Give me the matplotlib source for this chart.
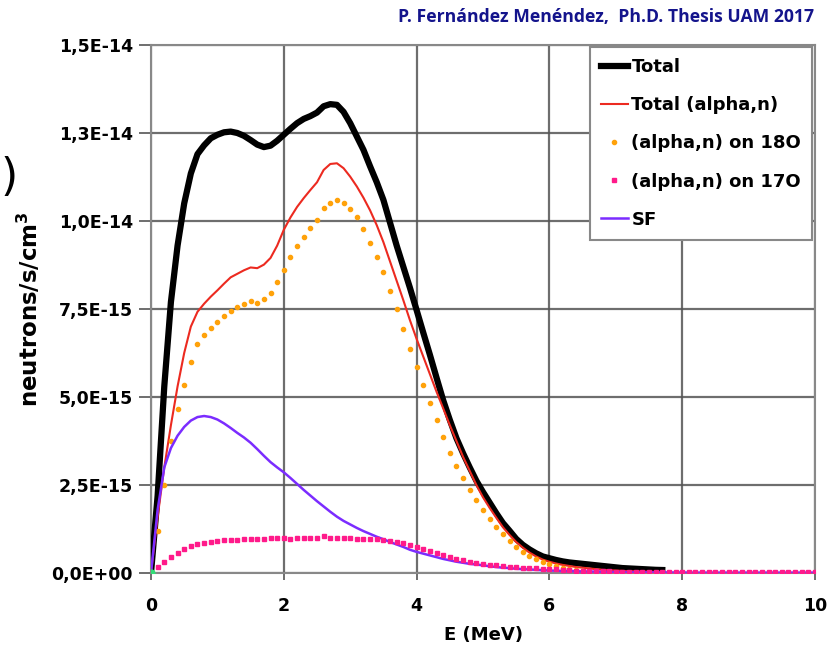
import numpy as np
import matplotlib
matplotlib.use('Agg')
import matplotlib.pyplot as plt

# energy grid of the simulation output (MeV), one point every 0.1 MeV
energy = np.arange(0, 101) / 10.0

# fluxes, in units of 1e-15 neutrons/s/cm3
total = [0, 2.2, 5.3, 7.7, 9.3, 10.5, 11.35, 11.9, 12.15, 12.35,
         12.45, 12.52, 12.54, 12.5, 12.42, 12.3, 12.17, 12.1, 12.14, 12.28,
         12.45, 12.62, 12.78, 12.9, 12.98, 13.08, 13.26, 13.32, 13.3, 13.1,
         12.78, 12.4, 12.02, 11.55, 11.1, 10.6, 9.95, 9.3, 8.7, 8.1,
         7.47, 6.83, 6.2, 5.55, 4.91, 4.35, 3.83, 3.4, 3.0, 2.62,
         2.3, 2.0, 1.7, 1.42, 1.2, 0.97, 0.8, 0.67, 0.56, 0.47,
         0.42, 0.37, 0.33, 0.3, 0.28, 0.26, 0.24, 0.22, 0.2, 0.18,
         0.16, 0.14, 0.13, 0.12, 0.11, 0.1, 0.09, 0.085]

total_an = [0, 1.6, 3.0, 4.2, 5.3, 6.25, 7.0, 7.42, 7.65, 7.85,
            8.03, 8.22, 8.4, 8.5, 8.6, 8.68, 8.66, 8.76, 8.95, 9.3,
            9.75, 10.1, 10.4, 10.65, 10.88, 11.1, 11.45, 11.62, 11.64, 11.5,
            11.26, 10.98, 10.66, 10.3, 9.88, 9.4, 8.85, 8.3, 7.75, 7.18,
            6.65, 6.15, 5.65, 5.15, 4.68, 4.2, 3.75, 3.3, 2.9, 2.5,
            2.15, 1.85, 1.57, 1.3, 1.08, 0.88, 0.72, 0.58, 0.47, 0.38,
            0.32, 0.27, 0.23, 0.2, 0.17, 0.15, 0.13, 0.11, 0.09, 0.08,
            0.07, 0.06, 0.05, 0.05, 0.04, 0.04, 0.03, 0.03]

an_18o = [0, 1.2, 2.5, 3.75, 4.65, 5.35, 6.0, 6.5, 6.76, 6.97,
          7.13, 7.29, 7.43, 7.55, 7.63, 7.72, 7.68, 7.77, 7.95, 8.26,
          8.6, 8.98, 9.29, 9.55, 9.79, 10.02, 10.38, 10.5, 10.6, 10.5,
          10.35, 10.1, 9.76, 9.38, 8.98, 8.55, 8.01, 7.49, 6.93, 6.37,
          5.86, 5.35, 4.84, 4.35, 3.87, 3.42, 3.04, 2.69, 2.36, 2.07,
          1.79, 1.54, 1.32, 1.1, 0.92, 0.75, 0.61, 0.48, 0.39, 0.31,
          0.26, 0.2, 0.15, 0.11, 0.08, 0.06, 0.04, 0.03, 0.02, 0.015,
          0.01, 0.01, 0.005, 0.005, 0, 0, 0, 0]

an_17o = [0, 0.17, 0.31, 0.45, 0.57, 0.68, 0.76, 0.81, 0.84, 0.87,
          0.9, 0.93, 0.94, 0.95, 0.96, 0.96, 0.96, 0.98, 1.0, 1.0,
          0.99, 0.98, 0.99, 1.0, 1.0, 1.0, 1.04, 1.0, 1.0, 1.0,
          0.99, 0.98, 0.98, 0.97, 0.96, 0.95, 0.92, 0.88, 0.84, 0.79,
          0.74, 0.68, 0.62, 0.56, 0.5, 0.45, 0.4, 0.36, 0.32, 0.29,
          0.26, 0.24, 0.22, 0.2, 0.18, 0.17, 0.15, 0.14, 0.13, 0.12,
          0.11, 0.1, 0.09, 0.08, 0.07, 0.06, 0.06, 0.05, 0.05, 0.05,
          0.04, 0.04, 0.04, 0.04, 0.03, 0.03, 0.03, 0.03, 0.03, 0.03,
          0.03, 0.02, 0.02, 0.02, 0.02, 0.02, 0.02, 0.02, 0.02, 0.02,
          0.02, 0.02, 0.02, 0.02, 0.02, 0.02, 0.02, 0.02, 0.02, 0.02,
          0.02]

sf = [0, 1.8, 3.0, 3.55, 3.9, 4.15, 4.33, 4.43, 4.46, 4.43,
      4.36, 4.25, 4.12, 3.98, 3.85, 3.7, 3.52, 3.33, 3.15, 3.0,
      2.86, 2.7, 2.53, 2.36, 2.2, 2.04, 1.89, 1.74, 1.6, 1.48,
      1.38, 1.28, 1.19, 1.11, 1.03, 0.96, 0.88, 0.81, 0.74, 0.66,
      0.6, 0.55, 0.5, 0.45, 0.4, 0.36, 0.32, 0.29, 0.26, 0.24,
      0.22, 0.19, 0.17, 0.15, 0.14, 0.12, 0.11, 0.1, 0.09, 0.08,
      0.07, 0.065, 0.06, 0.055, 0.05, 0.045, 0.04, 0.04, 0.035, 0.03,
      0.03, 0.025, 0.025, 0.025, 0.02, 0.02, 0.02, 0.02, 0.015, 0.015,
      0.015, 0.01, 0.01, 0.01, 0.01, 0.01, 0.01, 0.01, 0.01, 0.01,
      0.01, 0.01, 0.01, 0.01, 0.01, 0.01, 0.01, 0.01, 0.01, 0.01,
      0.01]

ytick_vals = [0, 2.5e-15, 5e-15, 7.5e-15, 1e-14, 1.25e-14, 1.5e-14]
ytick_labels = ['0,0E+00', '2,5E-15', '5,0E-15', '7,5E-15',
                '1,0E-14', '1,3E-14', '1,5E-14']
xtick_vals = [0, 2, 4, 6, 8, 10]

scale = 1e-15


def curve(values):
    n = len(values)
    return energy[:n], np.array(values) * scale


fig = plt.figure(figsize=(8.31, 6.70), dpi=100)
ax = fig.add_axes([151 / 831, 1 - 573 / 670, 664 / 831, 528 / 670])

x, y = curve(total)
ax.plot(x, y, color='black', lw=4.5, label='Total', zorder=3)
x, y = curve(total_an)
ax.plot(x, y, color='#ec2a20', lw=1.5, label='Total (alpha,n)', zorder=4)
x, y = curve(an_18o)
ax.plot(x, y, ls='none', marker='o', ms=3.0, color='#ffa20a',
        label='(alpha,n) on 18O', zorder=5)
x, y = curve(sf)
ax.plot(x, y, color='#7b2cff', lw=1.8, label='SF', zorder=6)
x, y = curve(an_17o)
ax.plot(x, y, ls='none', marker='s', ms=3.5, color='#ff1a8a',
        label='(alpha,n) on 17O', zorder=7)
ax.plot([0], [0], ls='none', marker='o', ms=5, color='#33dd77', zorder=8)

ax.set_xlim(0, 10)
ax.set_ylim(0, 1.5e-14)
ax.set_xticks(xtick_vals)
ax.set_xticklabels([str(v) for v in xtick_vals])
ax.set_yticks(ytick_vals)
ax.set_yticklabels(ytick_labels)
ax.grid(True, color='#555555', lw=1.6, alpha=0.85)
ax.set_axisbelow(True)
for s in ax.spines.values():
    s.set_color('#888888')
    s.set_linewidth(1.5)
ax.tick_params(axis='y', length=9, width=1.2, color='#555555', pad=4)
ax.tick_params(axis='x', length=5, width=1.2, color='#555555', pad=12)
for lab in ax.get_xticklabels() + ax.get_yticklabels():
    lab.set_fontweight('bold')
    lab.set_fontsize(12.5)

ax.set_xlabel('E (MeV)', fontsize=13, fontweight='bold', labelpad=8)
ax.set_ylabel('neutrons/s/cm$^\\mathbf{3}$', fontsize=16.5, fontweight='bold',
              labelpad=6)

# legend order as in the original
handles, labels = ax.get_legend_handles_labels()
order = [0, 1, 2, 4, 3]
leg = fig.legend([handles[i] for i in order], [labels[i] for i in order],
                 loc='upper right', bbox_to_anchor=(812 / 831, 1 - 47 / 670),
                 borderaxespad=0, numpoints=1, handlelength=1.5,
                 handletextpad=0.2, labelspacing=1.12, borderpad=0.6,
                 fancybox=False, framealpha=1, edgecolor='#888888',
                 prop={'weight': 'bold', 'size': 13})
leg.get_frame().set_linewidth(1.5)

fig.text(0.729, 0.974, 'P. Fernández Menéndez,  Ph.D. Thesis UAM 2017',
         color='#14148c', fontsize=12.7, fontweight='bold',
         family='Open Sans', ha='center', va='center')
fig.text(0.0, 0.735, ')', fontsize=32, ha='left', va='center')

fig.savefig('out.png', dpi=100)
